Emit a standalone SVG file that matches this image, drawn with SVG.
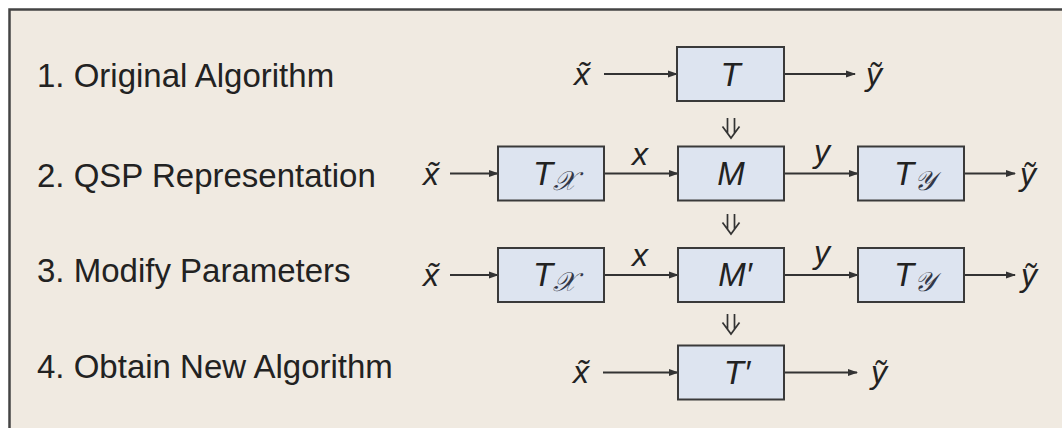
<svg xmlns="http://www.w3.org/2000/svg" width="1062" height="433" viewBox="0 0 1062 433">
<defs>
<marker id="ah" markerWidth="10" markerHeight="8" refX="9" refY="4" orient="auto" markerUnits="userSpaceOnUse"><path d="M0,0.5 L10,4 L0,7.5 Z" fill="#333"/></marker>
<style>
.lbl{font-family:"Liberation Sans",Arial,sans-serif;font-size:33px;fill:#222}
.box{fill:#dde4f0;stroke:#3a3a3a;stroke-width:2}
.m{font-family:"Liberation Sans",Arial,sans-serif;font-style:italic;font-size:33px;fill:#222}
.v{font-family:"Liberation Sans","DejaVu Sans",Arial,sans-serif;font-style:italic;font-size:32px;fill:#222}
.sub{font-family:"DejaVu Serif","Liberation Serif",serif;font-style:italic;font-size:27px;fill:#333848}
.c{stroke:#333;stroke-width:1.8;fill:none}
.dbl{stroke:#333;stroke-width:1.7;fill:none}
</style>
</defs>
<rect x="0" y="0" width="1062" height="433" fill="#ffffff"/>
<rect x="9" y="9" width="1053" height="419" fill="#f0eae1"/>
<path d="M9.5,428 V9.5 H1062" stroke="#444" stroke-width="2.5" fill="none"/>

<g id="labels">
<text class="lbl" x="37" y="87">1. Original Algorithm</text>
<text class="lbl" x="37" y="187">2. QSP Representation</text>
<text class="lbl" x="37" y="282">3. Modify Parameters</text>
<text class="lbl" x="37" y="378">4. Obtain New Algorithm</text>
</g>

<g id="connectors">
<line class="c" x1="604" y1="74" x2="677" y2="74" marker-end="url(#ah)"/>
<line class="c" x1="784" y1="74" x2="855" y2="74" marker-end="url(#ah)"/>
<line class="c" x1="450" y1="173.5" x2="498" y2="173.5" marker-end="url(#ah)"/>
<line class="c" x1="604" y1="173.5" x2="678" y2="173.5" marker-end="url(#ah)"/>
<line class="c" x1="784" y1="173.5" x2="858" y2="173.5" marker-end="url(#ah)"/>
<line class="c" x1="964" y1="173.5" x2="1015" y2="173.5" marker-end="url(#ah)"/>
<line class="c" x1="450" y1="275" x2="498" y2="275" marker-end="url(#ah)"/>
<line class="c" x1="604" y1="275" x2="678" y2="275" marker-end="url(#ah)"/>
<line class="c" x1="784" y1="275" x2="858" y2="275" marker-end="url(#ah)"/>
<line class="c" x1="964" y1="275" x2="1015" y2="275" marker-end="url(#ah)"/>
<line class="c" x1="603" y1="372.5" x2="678" y2="372.5" marker-end="url(#ah)"/>
<line class="c" x1="784" y1="372.5" x2="857" y2="372.5" marker-end="url(#ah)"/>
<path class="dbl" d="M727.5,118 V133 M734.5,118 V133 M722.5,126.5 L731,138 L739.5,126.5"/>
<path class="dbl" d="M727.5,214 V229 M734.5,214 V229 M722.5,222.5 L731,234 L739.5,222.5"/>
<path class="dbl" d="M727.5,314 V329 M734.5,314 V329 M722.5,322.5 L731,334 L739.5,322.5"/>
<text class="v" x="640" y="165" text-anchor="middle">x</text>
<text class="v" x="822" y="162" text-anchor="middle">y</text>
<text class="v" x="640" y="266" text-anchor="middle">x</text>
<text class="v" x="822" y="263" text-anchor="middle">y</text>
</g>

<g id="io">
<text class="v" x="574" y="85">x&#x303;</text>
<text class="v" x="866" y="85">y&#x303;</text>
<text class="v" x="423" y="185">x&#x303;</text>
<text class="v" x="1020" y="185">y&#x303;</text>
<text class="v" x="423" y="286">x&#x303;</text>
<text class="v" x="1021" y="286">y&#x303;</text>
<text class="v" x="573" y="383">x&#x303;</text>
<text class="v" x="871" y="383">y&#x303;</text>
</g>

<g id="node-T">
<rect class="box" x="677" y="47" width="107" height="54"/>
<text class="m" x="730.5" y="86" text-anchor="middle">T</text>
</g>
<g id="node-Tx-2">
<rect class="box" x="498" y="146.5" width="106" height="54"/>
<text class="m" x="533" y="185">T<tspan class="sub" dy="5">𝒳</tspan></text>
</g>
<g id="node-M">
<rect class="box" x="678" y="146.5" width="106" height="54"/>
<text class="m" x="731" y="185" text-anchor="middle">M</text>
</g>
<g id="node-Ty-2">
<rect class="box" x="858" y="146.5" width="106" height="54"/>
<text class="m" x="894" y="185">T<tspan class="sub" dy="5">𝒴</tspan></text>
</g>
<g id="node-Tx-3">
<rect class="box" x="498" y="248" width="106" height="54"/>
<text class="m" x="533" y="286">T<tspan class="sub" dy="5">𝒳</tspan></text>
</g>
<g id="node-Mprime">
<rect class="box" x="678" y="248" width="106" height="54"/>
<text class="m" x="735" y="286" text-anchor="middle">M′</text>
</g>
<g id="node-Ty-3">
<rect class="box" x="858" y="248" width="106" height="54"/>
<text class="m" x="894" y="286">T<tspan class="sub" dy="5">𝒴</tspan></text>
</g>
<g id="node-Tprime">
<rect class="box" x="678" y="345.5" width="106" height="54"/>
<text class="m" x="737" y="384" text-anchor="middle">T′</text>
</g>
</svg>
